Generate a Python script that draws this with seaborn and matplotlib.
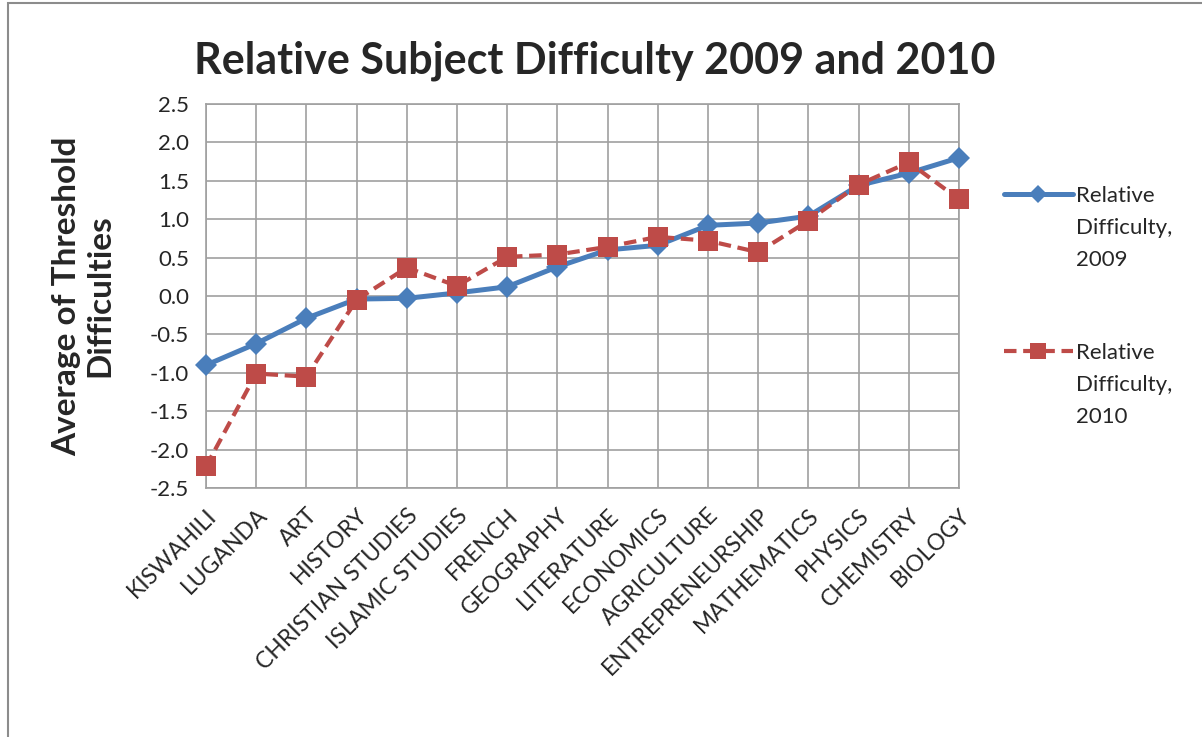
import matplotlib
matplotlib.use("Agg")
import matplotlib.pyplot as plt
from matplotlib.patches import Rectangle
import numpy as np
import pandas as pd
import seaborn as sns

subjects = ["KISWAHILI", "LUGANDA", "ART", "HISTORY", "CHRISTIAN STUDIES",
            "ISLAMIC STUDIES", "FRENCH", "GEOGRAPHY", "LITERATURE", "ECONOMICS",
            "AGRICULTURE", "ENTREPRENEURSHIP", "MATHEMATICS", "PHYSICS",
            "CHEMISTRY", "BIOLOGY"]
difficulty_2009 = [-0.90, -0.62, -0.29, -0.04, -0.03, 0.04, 0.12, 0.38,
                   0.60, 0.66, 0.92, 0.95, 1.04, 1.44, 1.60, 1.80]
difficulty_2010 = [-2.22, -1.01, -1.05, -0.05, 0.37, 0.13, 0.51, 0.54,
                   0.64, 0.77, 0.72, 0.57, 0.98, 1.45, 1.74, 1.26]
series_names = ["Relative\nDifficulty,\n2009", "Relative\nDifficulty,\n2010"]
y_ticks = [-2.5, -2.0, -1.5, -1.0, -0.5, 0.0, 0.5, 1.0, 1.5, 2.0, 2.5]

df = pd.DataFrame({
    "subject": subjects * 2,
    "pos": list(range(len(subjects))) * 2,
    "value": difficulty_2009 + difficulty_2010,
    "series": [series_names[0]] * len(subjects) + [series_names[1]] * len(subjects),
})

sns.set_theme(style="white")
plt.rcParams["font.family"] = ["Lato", "DejaVu Sans"]

BLUE = "#4A7EBB"
RED = "#BE4B48"
GRID = "#A0A0A0"

fig = plt.figure(figsize=(12.02, 7.37), dpi=100)
fig.patch.set_facecolor("white")
fig.add_artist(Rectangle((8 / 1202, -0.01), 1.2, 1 - 3 / 737 + 0.01,
                         transform=fig.transFigure, fill=False,
                         edgecolor="#8C8C8C", linewidth=1.5))

ax = fig.add_axes([206 / 1202, 1 - 488 / 737, (959 - 206) / 1202, (488 - 104) / 737])

sns.lineplot(data=df, x="pos", y="value", hue="series", style="series",
             palette=[BLUE, RED], markers=["D", "s"],
             dashes=[(None, None), (3, 1.6)], sort=False, ax=ax,
             legend=False)
lines = ax.get_lines()
lines[0].set_linewidth(3.6)
lines[0].set_markersize(11)
lines[0].set_markeredgewidth(0)
lines[1].set_linewidth(3.0)
lines[1].set_markersize(15)
lines[1].set_markeredgewidth(0)

ax.set_xlim(0, len(subjects) - 1)
ax.set_ylim(-2.5, 2.5)
ax.set_yticks(y_ticks)
ax.set_yticklabels([f"{t:.1f}" for t in y_ticks], fontsize=16)
ax.set_xticks(range(len(subjects)))
ax.set_xticklabels(subjects, rotation=45, ha="right", rotation_mode="anchor",
                   fontsize=16.5)
ax.tick_params(axis="x", length=0, pad=12)
ax.tick_params(axis="y", length=0, pad=12)
ax.grid(True, color=GRID, linewidth=1.2)
ax.set_axisbelow(True)
for s in ax.spines.values():
    s.set_color(GRID)
    s.set_linewidth(1.2)
for ln in lines:
    ln.set_clip_on(False)
    ln.set_zorder(3)

ax.set_xlabel("")
ax.set_ylabel("Average of Threshold\nDifficulties", fontsize=24,
              fontweight="bold", labelpad=26, linespacing=1.15)

fig.text(0.495, 1 - 61 / 737, "Relative Subject Difficulty 2009 and 2010",
         ha="center", va="center", fontsize=31, fontweight="bold")

handles = [plt.Line2D([], [], color=BLUE, lw=3.6, marker="D", ms=9, mew=0),
           plt.Line2D([], [], color=RED, lw=3.0, marker="s", ms=12, mew=0,
                      dashes=(3, 1.6))]
leg = fig.legend(handles, series_names, loc="upper left",
                 bbox_to_anchor=(995 / 1202, 1 - 177 / 737), frameon=False,
                 fontsize=16, handlelength=3.1, handletextpad=0.15,
                 labelspacing=3.3, borderaxespad=0)
for t in leg.get_texts():
    t.set_linespacing(1.75)
# put each legend line next to the first row of its label
for column in leg._legend_handle_box.get_children():
    for row in column.get_children():
        row.align = "top"

fig.savefig("out.png", dpi=100, facecolor="white")
